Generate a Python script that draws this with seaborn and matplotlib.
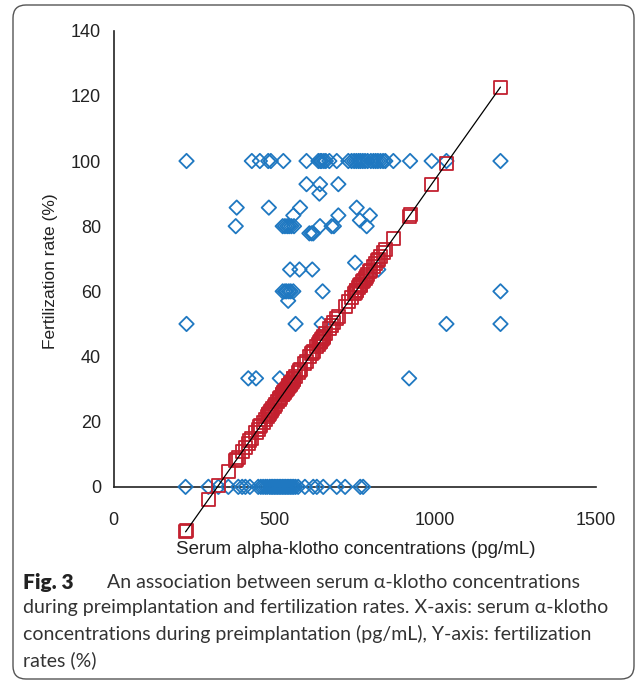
import numpy as np
import pandas as pd
import matplotlib
matplotlib.use("Agg")
import matplotlib.pyplot as plt
import seaborn as sns
from matplotlib.patches import FancyBboxPatch

# ---------------- data ----------------
# observed fertilization rates (%) grouped by rate level, with serum klotho (pg/mL)
klotho_rate_100 = [227, 430, 455, 481, 489, 528, 600, 637, 643, 647, 654, 660, 671, 694,
                   730, 740, 748, 755, 762, 768, 775, 782, 790, 800, 808, 815, 822, 830,
                   838, 845, 870, 922, 989, 1035, 1203]
klotho_rate_92_9 = [600, 642, 699]
klotho_rate_90_0 = [640]
klotho_rate_85_7 = [383, 483, 580, 756]
klotho_rate_83_3 = [559, 699, 797]
klotho_rate_81_8 = [766]
klotho_rate_80_0 = [380, 526, 533, 540, 546, 553, 561, 642, 678, 685, 787]
klotho_rate_77_8 = [609, 616, 621]
klotho_rate_68_8 = [751]
klotho_rate_66_7 = [549, 578, 618, 823]
klotho_rate_60_0 = [526, 533, 538, 545, 551, 559, 650, 1203]
klotho_rate_57_1 = [543]
klotho_rate_50_0 = [227, 566, 647, 1035, 1203]
klotho_rate_33_3 = [419, 443, 517, 919]
klotho_rate_0 = [224, 295, 326, 357, 388, 400, 410, 424, 450, 458, 465, 472, 478, 485,
                 490, 495, 500, 505, 510, 515, 520, 525, 530, 535, 540, 545, 550, 555,
                 560, 566, 574, 595, 621, 632, 652, 694, 720, 767, 776]

rate_levels = [100, 92.9, 90.0, 85.7, 83.3, 81.8, 80.0, 77.8, 68.8, 66.7, 60.0, 57.1, 50.0, 33.3, 0]
klotho_groups = [klotho_rate_100, klotho_rate_92_9, klotho_rate_90_0, klotho_rate_85_7,
                 klotho_rate_83_3, klotho_rate_81_8, klotho_rate_80_0, klotho_rate_77_8,
                 klotho_rate_68_8, klotho_rate_66_7, klotho_rate_60_0, klotho_rate_57_1,
                 klotho_rate_50_0, klotho_rate_33_3, klotho_rate_0]

# predicted fertilization rates (red squares on the fitted line)
pred_klotho = [224, 227, 295, 326, 357, 380, 383, 388, 400, 410, 419, 424, 430, 443, 450,
               455, 458, 465, 472, 478, 481, 483, 485, 489, 490, 495, 500, 505, 510, 515,
               517, 520, 525, 526, 528, 530, 533, 535, 538, 540, 543, 545, 546, 549, 550,
               551, 553, 555, 559, 560, 561, 566, 574, 578, 580, 595, 600, 609, 616, 618,
               621, 632, 637, 640, 642, 643, 647, 650, 652, 654, 660, 671, 678, 685, 694,
               699, 720, 730, 740, 748, 751, 755, 756, 762, 766, 767, 768, 775, 776, 782,
               787, 790, 797, 800, 808, 815, 822, 823, 830, 838, 845, 870, 919, 922, 989,
               1035, 1203]
pred_rate = [-13.8, -13.4, -3.9, 0.4, 4.8, 8.0, 8.4, 9.1, 10.8, 12.2, 13.4, 14.1, 14.9, 16.8,
             17.7, 18.4, 18.8, 19.8, 20.8, 21.6, 22.1, 22.3, 22.6, 23.2, 23.3, 24.0, 24.7,
             25.4, 26.1, 26.8, 27.1, 27.5, 28.2, 28.3, 28.6, 28.9, 29.3, 29.6, 30.0, 30.3,
             30.7, 31.0, 31.1, 31.5, 31.7, 31.8, 32.1, 32.4, 32.9, 33.1, 33.2, 33.9, 35.0,
             35.6, 35.9, 37.9, 38.6, 39.9, 40.9, 41.1, 41.6, 43.1, 43.8, 44.2, 44.5, 44.6,
             45.2, 45.6, 45.9, 46.2, 47.0, 48.5, 49.5, 50.5, 51.7, 52.4, 55.4, 56.8, 58.2,
             59.3, 59.7, 60.2, 60.4, 61.2, 61.8, 61.9, 62.1, 63.0, 63.2, 64.0, 64.7, 65.1,
             66.1, 66.5, 67.6, 68.6, 69.6, 69.7, 70.7, 71.8, 72.8, 76.3, 83.1, 83.5, 92.9,
             99.3, 122.7]

x_ticks = [0, 500, 1000, 1500]
y_ticks = [0, 20, 40, 60, 80, 100, 120, 140]
x_label = "Serum alpha-klotho concentrations (pg/mL)"
y_label = "Fertilization rate (%)"
caption_bold = "Fig. 3"
caption_lines = [
    "An association between serum \u03b1-klotho concentrations",
    "during preimplantation and fertilization rates. X-axis: serum \u03b1-klotho",
    "concentrations during preimplantation (pg/mL), Y-axis: fertilization",
    "rates (%)",
]

# ---------------- tables ----------------
obs_x, obs_y = [], []
for lvl, grp in zip(rate_levels, klotho_groups):
    obs_x.extend(grp)
    obs_y.extend([lvl] * len(grp))
observed = pd.DataFrame({"klotho": obs_x, "rate": obs_y})
predicted = pd.DataFrame({"klotho": pred_klotho, "rate": pred_rate})

# ---------------- figure ----------------
sns.set_style("white")
plt.rcParams["font.family"] = ["Liberation Sans", "DejaVu Sans"]

BLUE = "#1f78c1"
RED = "#c3202f"
AX = "#222222"

fig = plt.figure(figsize=(6.38, 6.82), dpi=100)
ax = fig.add_axes([0.1779, 0.2097, 0.7563, 0.7453])

sns.scatterplot(data=observed, x="klotho", y="rate", ax=ax, marker="D", s=54,
                color=BLUE, facecolor="none", edgecolor=BLUE, linewidth=1.3,
                zorder=3, clip_on=False, legend=False)
sns.scatterplot(data=predicted, x="klotho", y="rate", ax=ax, marker="s", s=88,
                color=RED, facecolor="none", edgecolor=RED, linewidth=1.3,
                zorder=4, clip_on=False, legend=False)
sns.lineplot(data=predicted, x="klotho", y="rate", ax=ax, color="black",
             linewidth=0.9, zorder=5, sort=True, estimator=None, clip_on=False)

ax.set_xlim(0, 1500)
ax.set_ylim(-16, 140)
ax.set_xticks(x_ticks)
ax.set_yticks(y_ticks)
ax.set_xlabel("")
ax.set_ylabel("")

for s in ["top", "right"]:
    ax.spines[s].set_visible(False)
ax.spines["bottom"].set_position(("data", 0))
ax.spines["bottom"].set_bounds(0, 1500)
ax.spines["left"].set_bounds(0, 140)
for s in ["bottom", "left"]:
    ax.spines[s].set_color(AX)
    ax.spines[s].set_linewidth(1.2)

ax.tick_params(axis="both", direction="out", length=5, width=1.2, color=AX,
               labelsize=13, labelcolor=AX)
ax.tick_params(axis="x", pad=13)
ax.tick_params(axis="y", pad=4)

fig.text(356 / 638, 1 - 549 / 682, x_label, ha="center", va="center",
         fontsize=13.5, color=AX)
fig.text(50 / 638, 1 - 271 / 682, y_label, ha="center", va="center",
         rotation=90, fontsize=12.5, color=AX)

# caption
cap_font = ["Lato", "DejaVu Sans"]
fig.text(23 / 638, 1 - 582 / 682, caption_bold, ha="left", va="center",
         fontsize=15, fontweight="heavy", family=cap_font, color="#222222")
fig.text(107 / 638, 1 - 582 / 682, caption_lines[0], ha="left", va="center",
         fontsize=14, family=cap_font, color="#333333")
for i, line in enumerate(caption_lines[1:]):
    fig.text(23 / 638, 1 - (608 + 26 * i) / 682, line, ha="left", va="center",
             fontsize=14, family=cap_font, color="#333333")

# rounded frame
frame = FancyBboxPatch((0.13, 0.03), 6.21, 6.74,
                       boxstyle="round,pad=0,rounding_size=0.13",
                       transform=fig.dpi_scale_trans, fill=False,
                       edgecolor="#555555", linewidth=1.0)
fig.add_artist(frame)

fig.savefig("out.png", dpi=100)
